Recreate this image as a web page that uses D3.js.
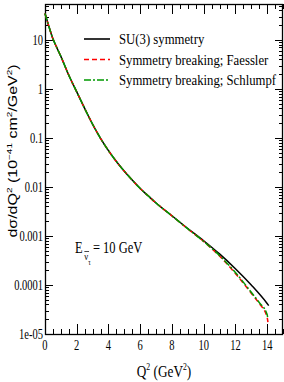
<!DOCTYPE html>
<html>
<head>
<meta charset="utf-8">
<script src="https://cdn.jsdelivr.net/npm/d3@7"></script>
<style>
  body { margin: 0; background: #fff; }
  svg { display: block; }
  text { font-family: "Liberation Serif", "Times New Roman", serif; fill: #000; }
</style>
</head>
<body>
<svg></svg>
<script>
// data (Q^2 in GeV^2, cross section in 10^-41 cm^2/GeV^2)
var q2Su3 = [0, 0.25, 0.5, 0.75, 1, 1.5, 2, 2.5, 3, 3.5, 4, 4.5, 5, 5.5, 6, 6.5, 7, 8, 9, 10, 11, 12, 13, 14, 14.1];
var su3 = [34.7, 18.6, 10.5, 6.9, 4.6, 1.9, 0.87, 0.40, 0.19, 0.098, 0.055, 0.033, 0.0209, 0.0138, 0.0093, 0.0066,
	0.0047, 0.00258, 0.00142, 0.00080, 0.00043, 0.000215, 0.0001, 0.000042, 0.000038];
var q2Faessler = [0, 0.25, 0.5, 0.75, 1, 1.5, 2, 2.5, 3, 3.5, 4, 4.5, 5, 5.5, 6, 6.5, 7, 8, 9, 10, 11, 12, 13, 13.5, 14, 14.05];
var faessler = [34.7, 18.6, 10.5, 6.9, 4.6, 1.9, 0.87, 0.40, 0.19, 0.098, 0.055, 0.033, 0.0209, 0.0138, 0.0093, 0.0066,
	0.0047, 0.00258, 0.00140, 0.00077, 0.00039, 0.000172, 0.000068, 0.000042, 0.000022, 0.0000175];
var q2Schlumpf = [0, 0.25, 0.5, 0.75, 1, 1.5, 2, 2.5, 3, 3.5, 4, 4.5, 5, 5.5, 6, 6.5, 7, 8, 9, 10, 11, 12, 13, 13.5, 14, 14.03];
var schlumpf = [34.7, 18.6, 10.5, 6.9, 4.6, 1.9, 0.87, 0.40, 0.19, 0.098, 0.055, 0.033, 0.0209, 0.0138, 0.0093, 0.0066,
	0.0047, 0.00258, 0.00140, 0.00077, 0.00040, 0.000180, 0.000071, 0.000044, 0.000025, 0.000022];
var seriesNames = ["SU(3) symmetry", "Symmetry breaking; Faessler", "Symmetry breaking; Schlumpf"];
var xTicks = [0, 2, 4, 6, 8, 10, 12, 14];
var yTicks = [10, 1, 0.1, 0.01, 0.001, 0.0001, 0.00001];
var yTickLabels = ["10", "1", "0.1", "0.01", "0.001", "0.0001", "1e-05"];

var svgWidth = 284, svgHeight = 382;
var plotLeft = 45, plotRight = 283, plotTop = 4, plotBottom = 334;
var squishX = 0.78; // the picture's text looks horizontally compressed

var svg = d3.select("svg").attr("width", svgWidth).attr("height", svgHeight);

var xScale = d3.scaleLinear().domain([0, 15]).range([plotLeft, plotRight]);
var yScale = d3.scaleLog().domain([0.00001, 54]).range([plotBottom, plotTop]);

var styles = [
	{ color: "#000000", dash: null },
	{ color: "#ff0000", dash: "5,3" },
	{ color: "#009900", dash: "7,2,2,2" }
];

drawFrame();
drawCurves();
drawLegend();
drawLabels();

// box with inward ticks on all four sides
function drawFrame() {
	var minorX = d3.range(0, 15.01, 0.5);
	var minorY = [];
	for (var e = -5; e <= 1; e++) {
		for (var m = 1; m <= 9; m++) {
			var v = m * Math.pow(10, e);
			if (v <= 54) minorY.push(v);
		}
	}
	var ticks = svg.append("g").attr("stroke", "#000").attr("stroke-width", 1);

	minorX.forEach(function(d) {
		var major = Math.abs(d - Math.round(d / 2) * 2) < 1e-6;
		var len = major ? 10 : 5;
		var x = Math.round(xScale(d)) + 0.5;
		ticks.append("line").attr("x1", x).attr("x2", x).attr("y1", plotBottom).attr("y2", plotBottom - len);
		ticks.append("line").attr("x1", x).attr("x2", x).attr("y1", plotTop).attr("y2", plotTop + len);
	});

	minorY.forEach(function(d) {
		var major = Math.abs(Math.log10(d) - Math.round(Math.log10(d))) < 1e-9;
		var len = major ? 8 : 4;
		var y = Math.round(yScale(d)) + 0.5;
		ticks.append("line").attr("x1", plotLeft).attr("x2", plotLeft + len).attr("y1", y).attr("y2", y);
		ticks.append("line").attr("x1", plotRight).attr("x2", plotRight - len).attr("y1", y).attr("y2", y);
	});

	svg.append("rect")
		.attr("x", plotLeft + 0.5).attr("y", plotTop + 0.5)
		.attr("width", plotRight - plotLeft - 1).attr("height", plotBottom - plotTop)
		.attr("fill", "none").attr("stroke", "#000").attr("stroke-width", 1.3);

	// tick labels
	yTicks.forEach(function(d, i) {
		svg.append("text")
			.attr("transform", "translate(43," + (yScale(d) + 5) + ") scale(0.75,1)")
			.attr("text-anchor", "end")
			.style("font-size", "14px")
			.text(yTickLabels[i]);
	});
	xTicks.forEach(function(d) {
		svg.append("text")
			.attr("transform", "translate(" + xScale(d) + ",350) scale(0.75,1)")
			.attr("text-anchor", "middle")
			.style("font-size", "14px")
			.text(d);
	});
}

// the three cross section curves
function drawCurves() {
	var all = [
		{ x: q2Su3, y: su3 },
		{ x: q2Faessler, y: faessler },
		{ x: q2Schlumpf, y: schlumpf }
	];
	var line = d3.line()
		.x(function(d) { return xScale(d[0]); })
		.y(function(d) { return yScale(d[1]); })
		.curve(d3.curveMonotoneX);

	all.forEach(function(s, i) {
		var pts = s.x.map(function(q, j) { return [q, s.y[j]]; });
		svg.append("path")
			.datum(pts)
			.attr("d", line)
			.attr("fill", "none")
			.attr("stroke", styles[i].color)
			.attr("stroke-width", 1.5)
			.attr("stroke-dasharray", styles[i].dash);
	});
}

function drawLegend() {
	var rowY = [39, 59.5, 80];
	seriesNames.forEach(function(name, i) {
		svg.append("line")
			.attr("x1", 84).attr("x2", 110)
			.attr("y1", rowY[i]).attr("y2", rowY[i])
			.attr("stroke", styles[i].color)
			.attr("stroke-width", 1.6)
			.attr("stroke-dasharray", styles[i].dash);
		svg.append("text")
			.attr("transform", "translate(119," + (rowY[i] + 5) + ") scale(0.85,1)")
			.style("font-size", "15px")
			.text(name);
	});
}

// axis titles and the beam energy note
function drawLabels() {
	var xt = svg.append("text")
		.attr("transform", "translate(164,377) scale(" + squishX + ",1)")
		.attr("text-anchor", "middle")
		.style("font-size", "17px");
	xt.append("tspan").text("Q");
	xt.append("tspan").attr("dy", -7).style("font-size", "10px").text("2");
	xt.append("tspan").attr("dy", 7).text(" (GeV");
	xt.append("tspan").attr("dy", -7).style("font-size", "10px").text("2");
	xt.append("tspan").attr("dy", 7).text(")");

	var yt = svg.append("text")
		.attr("transform", "translate(17,151) scale(" + squishX + ",1) rotate(-90)")
		.attr("text-anchor", "middle")
		.style("font-family", "'Liberation Sans', Arial, sans-serif")
		.style("font-size", "16px");
	yt.append("tspan").text("dσ/dQ");
	yt.append("tspan").attr("dy", -7).style("font-size", "10px").text("2");
	yt.append("tspan").attr("dy", 7).text(" (10");
	yt.append("tspan").attr("dy", -7).style("font-size", "10px").text("−41");
	yt.append("tspan").attr("dy", 7).text(" cm");
	yt.append("tspan").attr("dy", -7).style("font-size", "10px").text("2");
	yt.append("tspan").attr("dy", 7).text("/GeV");
	yt.append("tspan").attr("dy", -7).style("font-size", "10px").text("2");
	yt.append("tspan").attr("dy", 7).text(")");

	var note = svg.append("g").attr("transform", "translate(75,253) scale(" + squishX + ",1)");
	note.append("text").style("font-size", "16px").text("E");
	note.append("text").attr("x", 12).attr("y", 7).style("font-size", "11px").text("ν");
	note.append("line").attr("x1", 12).attr("x2", 18).attr("y1", -1.5).attr("y2", -1.5)
		.attr("stroke", "#000").attr("stroke-width", 0.8);
	note.append("text").attr("x", 17).attr("y", 12).style("font-size", "8px").text("τ");
	note.append("text").attr("x", 23).style("font-size", "16px").text("= 10 GeV");
}
</script>
</body>
</html>
